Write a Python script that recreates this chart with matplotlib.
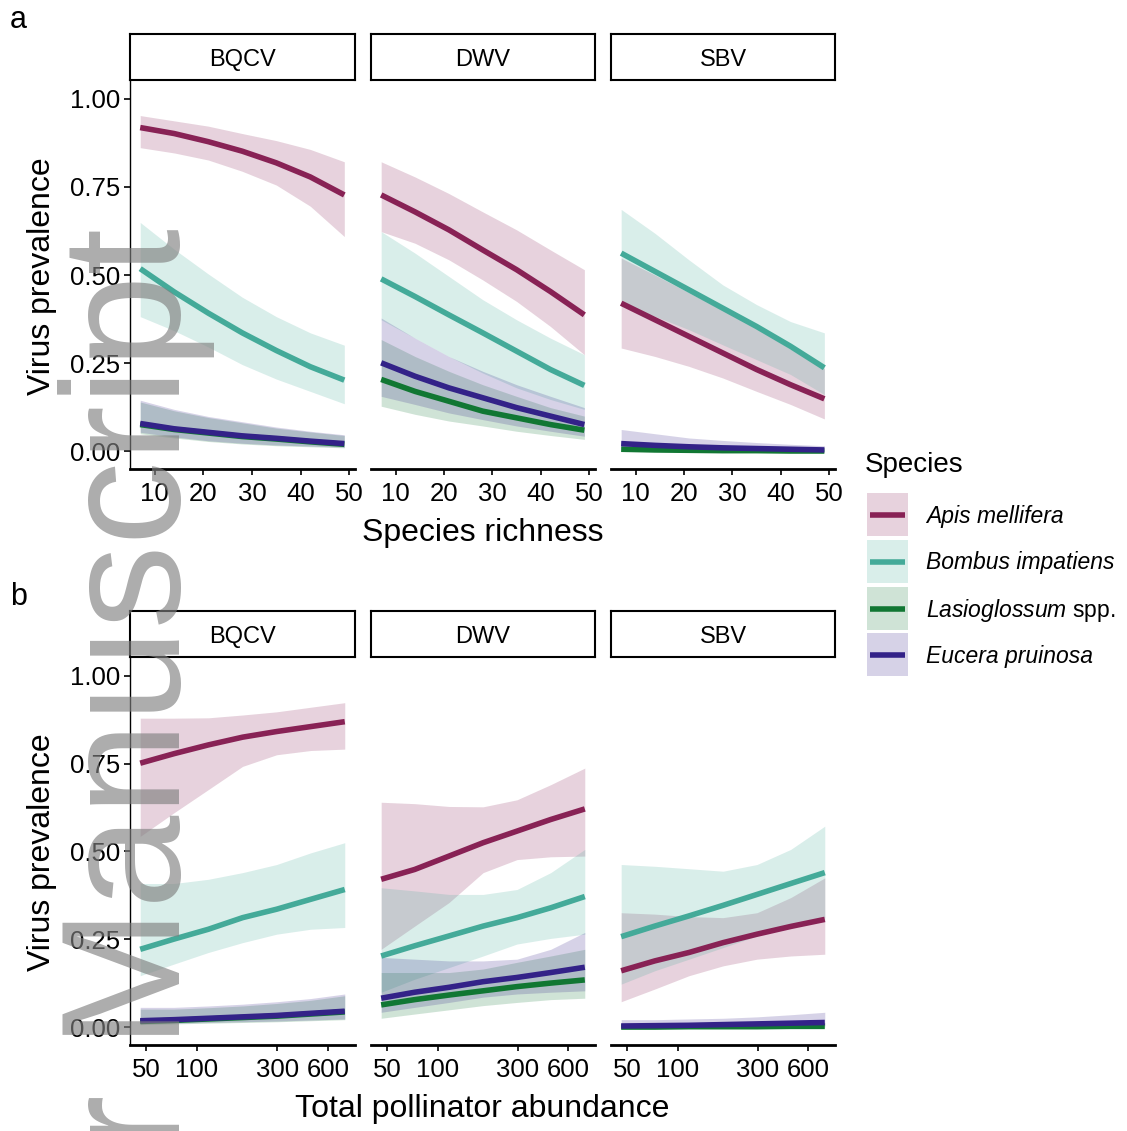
import matplotlib.pyplot as plt
from matplotlib.patches import Rectangle
from matplotlib.ticker import NullLocator

plt.rcParams['font.family'] = ['Liberation Sans', 'DejaVu Sans']
plt.rcParams['mathtext.fontset'] = 'custom'
plt.rcParams['mathtext.it'] = 'Liberation Sans:italic'
plt.rcParams['mathtext.rm'] = 'Liberation Sans'

species = ["Apis mellifera", "Bombus impatiens", "Lasioglossum spp.", "Eucera pruinosa"]
species_labels = ["Apis mellifera", "Bombus impatiens", r"$\mathit{Lasioglossum}$ spp.", "Eucera pruinosa"]
line_colors = ["#882255", "#44AA99", "#117733", "#332288"]
viruses = ["BQCV", "DWV", "SBV"]

richness = [7, 14, 21, 28, 35, 42, 49]
abundance = [46, 73, 117, 187, 298, 474, 757]

# predicted prevalence: (fit, lower, upper)
rich_bqcv = {
    "Apis mellifera": ([0.918, 0.901, 0.878, 0.851, 0.818, 0.778, 0.727],
                       [0.861, 0.846, 0.826, 0.794, 0.755, 0.695, 0.609],
                       [0.952, 0.937, 0.922, 0.901, 0.881, 0.856, 0.821]),
    "Bombus impatiens": ([0.518, 0.452, 0.392, 0.336, 0.286, 0.240, 0.202],
                         [0.382, 0.342, 0.296, 0.246, 0.205, 0.170, 0.135],
                         [0.649, 0.573, 0.503, 0.437, 0.382, 0.336, 0.301]),
    "Lasioglossum spp.": ([0.076, 0.062, 0.052, 0.042, 0.035, 0.027, 0.020],
                          [0.050, 0.038, 0.028, 0.021, 0.016, 0.013, 0.010],
                          [0.140, 0.115, 0.096, 0.081, 0.066, 0.055, 0.045]),
    "Eucera pruinosa": ([0.079, 0.064, 0.054, 0.044, 0.037, 0.029, 0.022],
                        [0.054, 0.041, 0.030, 0.023, 0.018, 0.015, 0.012],
                        [0.145, 0.119, 0.099, 0.084, 0.069, 0.057, 0.047]),
}
rich_dwv = {
    "Apis mellifera": ([0.727, 0.679, 0.628, 0.571, 0.515, 0.453, 0.387],
                       [0.623, 0.590, 0.543, 0.486, 0.425, 0.354, 0.274],
                       [0.821, 0.778, 0.731, 0.679, 0.628, 0.571, 0.515]),
    "Bombus impatiens": ([0.489, 0.439, 0.387, 0.336, 0.284, 0.232, 0.187],
                         [0.373, 0.321, 0.269, 0.222, 0.180, 0.147, 0.119],
                         [0.623, 0.562, 0.496, 0.430, 0.373, 0.321, 0.274]),
    "Lasioglossum spp.": ([0.204, 0.170, 0.142, 0.114, 0.095, 0.076, 0.060],
                          [0.128, 0.105, 0.086, 0.072, 0.057, 0.045, 0.034],
                          [0.317, 0.269, 0.227, 0.189, 0.156, 0.124, 0.100]),
    "Eucera pruinosa": ([0.251, 0.213, 0.180, 0.152, 0.124, 0.100, 0.076],
                        [0.156, 0.133, 0.109, 0.090, 0.072, 0.057, 0.043],
                        [0.378, 0.321, 0.269, 0.227, 0.189, 0.156, 0.124]),
}
rich_sbv = {
    "Apis mellifera": ([0.420, 0.373, 0.326, 0.279, 0.232, 0.189, 0.149],
                       [0.293, 0.269, 0.241, 0.208, 0.170, 0.133, 0.092],
                       [0.548, 0.500, 0.450, 0.400, 0.350, 0.290, 0.235]),
    "Bombus impatiens": ([0.562, 0.510, 0.458, 0.406, 0.354, 0.298, 0.237],
                         [0.413, 0.383, 0.345, 0.302, 0.260, 0.218, 0.161],
                         [0.686, 0.618, 0.543, 0.472, 0.416, 0.368, 0.336]),
    "Lasioglossum spp.": ([0.006, 0.004, 0.003, 0.002, 0.002, 0.001, 0.001],
                          [0.002, 0.001, 0.001, 0.001, 0.000, 0.000, 0.000],
                          [0.018, 0.013, 0.010, 0.008, 0.006, 0.005, 0.004]),
    "Eucera pruinosa": ([0.022, 0.017, 0.013, 0.010, 0.008, 0.006, 0.004],
                        [0.008, 0.006, 0.004, 0.003, 0.002, 0.002, 0.001],
                        [0.062, 0.050, 0.038, 0.031, 0.025, 0.020, 0.016]),
}

abund_bqcv = {
    "Apis mellifera": ([0.751, 0.778, 0.803, 0.825, 0.841, 0.855, 0.869],
                       [0.543, 0.610, 0.676, 0.742, 0.775, 0.787, 0.791],
                       [0.879, 0.879, 0.880, 0.888, 0.897, 0.910, 0.923]),
    "Bombus impatiens": ([0.222, 0.251, 0.279, 0.312, 0.336, 0.364, 0.392],
                         [0.147, 0.180, 0.213, 0.241, 0.265, 0.279, 0.284],
                         [0.409, 0.409, 0.421, 0.440, 0.463, 0.496, 0.525]),
    "Lasioglossum spp.": ([0.017, 0.020, 0.024, 0.028, 0.032, 0.038, 0.044],
                          [0.008, 0.010, 0.012, 0.014, 0.016, 0.019, 0.022],
                          [0.052, 0.052, 0.056, 0.061, 0.068, 0.077, 0.090]),
    "Eucera pruinosa": ([0.019, 0.022, 0.026, 0.030, 0.034, 0.040, 0.046],
                        [0.010, 0.012, 0.014, 0.016, 0.018, 0.021, 0.024],
                        [0.057, 0.057, 0.061, 0.066, 0.073, 0.082, 0.095]),
}
abund_dwv = {
    "Apis mellifera": ([0.421, 0.449, 0.487, 0.525, 0.558, 0.591, 0.621],
                       [0.222, 0.288, 0.355, 0.440, 0.477, 0.485, 0.487],
                       [0.640, 0.636, 0.628, 0.627, 0.647, 0.690, 0.737]),
    "Bombus impatiens": ([0.203, 0.232, 0.260, 0.288, 0.312, 0.340, 0.372],
                         [0.100, 0.137, 0.170, 0.203, 0.237, 0.253, 0.265],
                         [0.397, 0.388, 0.378, 0.378, 0.392, 0.440, 0.506]),
    "Lasioglossum spp.": ([0.064, 0.079, 0.092, 0.104, 0.116, 0.126, 0.135],
                          [0.026, 0.038, 0.050, 0.062, 0.071, 0.079, 0.083],
                          [0.156, 0.156, 0.156, 0.166, 0.185, 0.203, 0.222]),
    "Eucera pruinosa": ([0.083, 0.100, 0.114, 0.130, 0.142, 0.156, 0.171],
                        [0.043, 0.057, 0.071, 0.086, 0.095, 0.100, 0.104],
                        [0.199, 0.194, 0.189, 0.189, 0.194, 0.222, 0.270]),
}
abund_sbv = {
    "Apis mellifera": ([0.161, 0.189, 0.213, 0.241, 0.265, 0.287, 0.307],
                       [0.073, 0.109, 0.147, 0.175, 0.194, 0.203, 0.208],
                       [0.326, 0.322, 0.315, 0.312, 0.326, 0.369, 0.425]),
    "Bombus impatiens": ([0.258, 0.288, 0.317, 0.347, 0.378, 0.409, 0.440],
                         [0.123, 0.161, 0.194, 0.227, 0.260, 0.288, 0.312],
                         [0.463, 0.458, 0.451, 0.444, 0.463, 0.506, 0.572]),
    "Lasioglossum spp.": ([0.001, 0.001, 0.002, 0.002, 0.002, 0.003, 0.003],
                          [0.000, 0.000, 0.000, 0.001, 0.001, 0.001, 0.001],
                          [0.006, 0.006, 0.007, 0.008, 0.009, 0.011, 0.014]),
    "Eucera pruinosa": ([0.004, 0.005, 0.006, 0.008, 0.010, 0.012, 0.014],
                        [0.001, 0.001, 0.002, 0.002, 0.003, 0.004, 0.005],
                        [0.022, 0.022, 0.024, 0.026, 0.030, 0.036, 0.043]),
}

W, H = 1127, 1131


def box(l, t, r, b):
    # pixel box (from top-left) -> figure fraction
    return [l / W, 1 - b / H, (r - l) / W, (b - t) / H]


def draw_panel(ax, x, curves):
    # ribbons first, then the fitted lines on top (as ggplot layers do)
    for sp, col in zip(species, line_colors):
        fit, lo, hi = curves[sp]
        ax.fill_between(x, lo, hi, color=col, alpha=0.2, lw=0)
    for sp, col in zip(species, line_colors):
        fit, lo, hi = curves[sp]
        ax.plot(x, fit, color=col, lw=4, solid_capstyle='butt')


fig = plt.figure(figsize=(W / 100, H / 100), dpi=100)

facet_lr = [(130, 355), (371, 595), (611, 835)]
rows = [
    dict(x=richness, data=[rich_bqcv, rich_dwv, rich_sbv], top=81, bottom=469,
         strip=(34, 80), log=False),
    dict(x=abundance, data=[abund_bqcv, abund_dwv, abund_sbv], top=658, bottom=1045,
         strip=(611, 657), log=True),
]

for row in rows:
    for i, (l, r) in enumerate(facet_lr):
        ax = fig.add_axes(box(l, row['top'], r, row['bottom']))
        draw_panel(ax, row['x'], row['data'][i])
        ax.set_ylim(-0.05, 1.05)
        if row['log']:
            ax.set_xscale('log')
            ax.set_xlim(40.0, 871)
            ax.set_xticks([50, 100, 300, 600])
            ax.set_xticklabels(['50', '100', '300', '600'])
            ax.xaxis.set_minor_locator(NullLocator())
        else:
            ax.set_xlim(4.9, 51.2)
            ax.set_xticks([10, 20, 30, 40, 50])
        ax.spines['top'].set_visible(False)
        ax.spines['right'].set_visible(False)
        ax.spines['bottom'].set_linewidth(2.0)
        ax.tick_params(axis='x', length=4, width=1.2, pad=5.5, labelsize=18.5, colors='black')
        if i == 0:
            ax.spines['left'].set_linewidth(1.0)
            ax.set_yticks([0, 0.25, 0.5, 0.75, 1.0])
            ax.set_yticklabels(['0.00', '0.25', '0.50', '0.75', '1.00'])
            ax.tick_params(axis='y', length=4, width=1.2, pad=3, labelsize=18.5, colors='black')
        else:
            ax.spines['left'].set_visible(False)
            ax.tick_params(axis='y', left=False, labelleft=False)

        st, sb = row['strip']
        sax = fig.add_axes(box(l, st, r, sb))
        sax.set_xticks([])
        sax.set_yticks([])
        for s in sax.spines.values():
            s.set_linewidth(1.5)
            s.set_color('black')
        sax.text(0.5, 0.43, viruses[i], ha='center', va='center', fontsize=17,
                 transform=sax.transAxes)

# axis titles and panel letters
fig.text(482.5 / W, 1 - 533 / H, "Species richness", ha='center', va='center', fontsize=23)
fig.text(482.5 / W, 1 - 1109 / H, "Total pollinator abundance", ha='center', va='center', fontsize=23)
fig.text(42 / W, 1 - 276 / H, "Virus prevalence", rotation=90, ha='center', va='center', fontsize=23)
fig.text(42 / W, 1 - 852 / H, "Virus prevalence", rotation=90, ha='center', va='center', fontsize=23)
fig.text(10 / W, 1 - 20 / H, "a", ha='left', va='center', fontsize=22)
fig.text(10 / W, 1 - 597 / H, "b", ha='left', va='center', fontsize=22)

# legend
lax = fig.add_axes([0, 0, 1, 1])
lax.set_xlim(0, W)
lax.set_ylim(H, 0)
lax.axis('off')
lax.text(865, 465, "Species", ha='left', va='center', fontsize=20)
key_tops = [493, 540, 587, 633]
for top, lab, col in zip(key_tops, species_labels, line_colors):
    lax.add_patch(Rectangle((867, top), 41, 43, facecolor=col, alpha=0.2, lw=0))
    lax.plot([870, 905], [top + 21.5, top + 21.5], color=col, lw=4, solid_capstyle='butt')
    style = 'normal' if lab.startswith('$') else 'italic'
    lax.text(926, top + 23, lab, ha='left', va='center', fontsize=16.5, fontstyle=style)

# watermark
fig.text(180 / W, 1 - 228 / H, "Author Manuscript", rotation=90, rotation_mode='anchor',
         ha='right', va='baseline', fontsize=120.7, color='#808080', alpha=0.65, zorder=10)

fig.savefig('out.png', dpi=100)
